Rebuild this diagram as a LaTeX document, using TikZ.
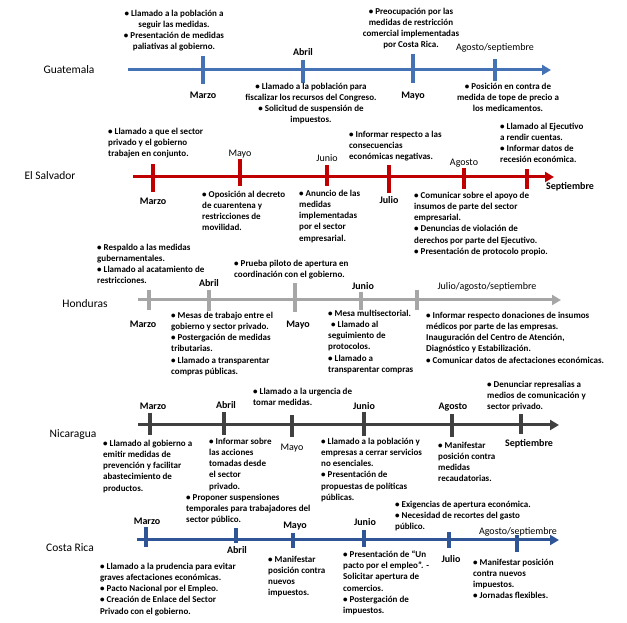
\documentclass[tikz,border=0pt]{standalone}
\usepackage{fontspec}
\setmainfont{Carlito}
\usetikzlibrary{arrows.meta}
\definecolor{gblue}{RGB}{68,114,180}
\definecolor{cblue}{RGB}{47,85,151}
\definecolor{sred}{RGB}{192,0,0}
\definecolor{hgray}{RGB}{166,166,166}
\definecolor{ngray}{RGB}{64,64,64}
\tikzset{
  bt/.style={font=\fontsize{9}{11.3}\selectfont\bfseries, inner sep=0pt, align=left, anchor=north west, execute at begin node={\rule{0pt}{7pt}}},
  btc/.style={font=\fontsize{9}{11.3}\selectfont\bfseries, inner sep=0pt, align=center, anchor=north, execute at begin node={\rule{0pt}{7pt}}},
  mon/.style={font=\fontsize{10}{12}\selectfont\bfseries, inner sep=0pt, anchor=base},
  monr/.style={font=\fontsize{10}{12}\selectfont, inner sep=0pt, anchor=base},
  ctry/.style={font=\fontsize{11.5}{13}\selectfont, inner sep=0pt, anchor=base},
  axis/.style={line width=3pt, -{Triangle[length=9pt,width=10pt]}},
  tk/.style={line width=3.5pt}
}
\begin{document}
\begin{tikzpicture}[x=1pt,y=1pt]
\useasboundingbox (0,0) rectangle (627,623);
% ---------------- Guatemala ----------------
\node[ctry] (gname) at (69,549) {Guatemala};
\coordinate (gS) at (128,553);
\coordinate (gE) at (551,553);
\draw[axis,gblue] (gS) -- (gE);
\draw[tk,gblue] (203,567) coordinate (g1a) -- (203,539) coordinate (g1b);
\draw[tk,gblue] (303,563) coordinate (g2a) -- (303,540) coordinate (g2b);
\draw[tk,gblue] (413,569) coordinate (g3a) -- (413,540) coordinate (g3b);
\draw[tk,gblue] (495,564) coordinate (g4a) -- (495,542) coordinate (g4b);
\node[mon] (gm1) at (203,524.5) {Marzo};
\node[mon] (gm2) at (303,567.5) {Abril};
\node[mon] (gm3) at (413,524.5) {Mayo};
\node[monr] (gm4) at (495,572.5) {Agosto/septiembre};
\node[btc] (gt1) at (174,613.5) {• Llamado a la población a\\seguir las medidas.\\• Presentación de medidas\\paliativas al gobierno.};
\node[btc] (gt2) at (311,540.5) {• Llamado a la población para\\fiscalizar los recursos del Congreso.\\• Solicitud de suspensión de\\impuestos.};
\node[btc] (gt3) at (411,615.5) {• Preocupación por las\\medidas de restricción\\comercial implementadas\\por Costa Rica.};
\node[btc] (gt4) at (508,540.5) {• Posición en contra de\\medida de tope de precio a\\los medicamentos.};
% ---------------- El Salvador ----------------
\node[ctry] (sname) at (50,443) {El Salvador};
\coordinate (sS) at (133,446);
\coordinate (sE) at (554,446);
\draw[axis,sred] (sS) -- (sE);
\draw[tk,sred] (153,459) coordinate (s1a) -- (153,431) coordinate (s1b);
\draw[tk,sred] (240,464) coordinate (s2a) -- (240,437) coordinate (s2b);
\draw[tk,sred] (327,458) coordinate (s3a) -- (327,437) coordinate (s3b);
\draw[tk,sred] (389,458) coordinate (s4a) -- (389,430) coordinate (s4b);
\draw[tk,sred] (464,455) coordinate (s5a) -- (464,434) coordinate (s5b);
\draw[tk,sred] (527,454) coordinate (s6a) -- (527,434) coordinate (s6b);
\node[mon] (sm1) at (153,418.5) {Marzo};
\node[monr] (sm2) at (240,466.5) {Mayo};
\node[monr] (sm3) at (327,461.5) {Junio};
\node[mon] (sm4) at (389,419.5) {Julio};
\node[monr] (sm5) at (464,457.5) {Agosto};
\node[mon] (sm6) at (570,433.5) {Septiembre};
\node[bt] (st1) at (108,495.5) {• Llamado a que el sector\\privado y el gobierno\\trabajen en conjunto.};
\node[bt] (st2) at (202,432.5) {• Oposición al decreto\\de cuarentena y\\restricciones de\\movilidad.};
\node[bt] (st3) at (299,433.5) {• Anuncio de las\\medidas\\implementadas\\por el sector\\empresarial.};
\node[bt] (st4) at (349,492.5) {• Informar respecto a las\\consecuencias\\económicas negativas.};
\node[bt] (st5) at (414,431.5) {• Comunicar sobre el apoyo de\\insumos de parte del sector\\empresarial.\\• Denuncias de violación de\\derechos por parte del Ejecutivo.\\• Presentación de protocolo propio.};
\node[bt] (st6) at (500,500.5) {• Llamado al Ejecutivo\\a rendir cuentas.\\• Informar datos de\\recesión económica.};
% ---------------- Honduras ----------------
\node[ctry] (hname) at (85,315) {Honduras};
\coordinate (hS) at (138,323);
\coordinate (hE) at (561,323);
\draw[axis,hgray] (hS) -- (hE);
\draw[tk,hgray] (149,333) coordinate (h1a) -- (149,313) coordinate (h1b);
\draw[tk,hgray] (209,333) coordinate (h2a) -- (209,312) coordinate (h2b);
\draw[tk,hgray] (295,340) coordinate (h3a) -- (295,311) coordinate (h3b);
\draw[tk,hgray] (361,331) coordinate (h4a) -- (361,313) coordinate (h4b);
\draw[tk,hgray] (417,333) coordinate (h5a) -- (417,313) coordinate (h5b);
\node[mon] (hm1) at (143,295.5) {Marzo};
\node[mon] (hm2) at (209,336.5) {Abril};
\node[mon] (hm3) at (298,295.5) {Mayo};
\node[mon] (hm4) at (363,333.5) {Junio};
\node[monr] (hm5) at (487,333.5) {Julio/agosto/septiembre};
\node[bt] (ht1) at (97,379.5) {• Respaldo a las medidas\\gubernamentales.\\• Llamado al acatamiento de\\restricciones.};
\node[bt] (ht2) at (234,363.5) {• Prueba piloto de apertura en\\coordinación con el gobierno.};
\node[bt] (ht3) at (171,311.5) {• Mesas de trabajo entre el\\gobierno y sector privado.\\• Postergación de medidas\\tributarias.\\• Llamado a transparentar\\compras públicas.};
\node[bt] (ht4) at (328,313.5) {• Mesa multisectorial.\\\hspace{3pt}• Llamado al\\seguimiento de\\protocolos.\\• Llamado a\\transparentar compras};
\node[bt] (ht5) at (426,311.5) {• Informar respecto donaciones de insumos\\médicos por parte de las empresas.\\Inauguración del Centro de Atención,\\Diagnóstico y Estabilización.\\• Comunicar datos de afectaciones económicas.};
% ---------------- Nicaragua ----------------
\node[ctry] (nname) at (73,185) {Nicaragua};
\coordinate (nS) at (138,198);
\coordinate (nE) at (559,198);
\draw[axis,ngray] (nS) -- (nE);
\draw[tk,ngray] (150,210) coordinate (n1a) -- (150,188) coordinate (n1b);
\draw[tk,ngray] (224,211) coordinate (n2a) -- (224,188) coordinate (n2b);
\draw[tk,ngray] (292,208) coordinate (n3a) -- (292,186) coordinate (n3b);
\draw[tk,ngray] (364,211) coordinate (n4a) -- (364,187) coordinate (n4b);
\draw[tk,ngray] (452,209) coordinate (n5a) -- (452,186) coordinate (n5b);
\draw[tk,ngray] (521,209) coordinate (n6a) -- (521,189) coordinate (n6b);
\node[mon] (nm1) at (153,213.5) {Marzo};
\node[mon] (nm2) at (226,214.5) {Abril};
\node[monr] (nm3) at (292,172.5) {Mayo};
\node[mon] (nm4) at (364,213.5) {Junio};
\node[mon] (nm5) at (453,213.5) {Agosto};
\node[mon] (nm6) at (529,176.5) {Septiembre};
\node[bt] (nt1) at (103,183.5) {• Llamado al gobierno a\\emitir medidas de\\prevención y facilitar\\abastecimiento de\\productos.};
\node[bt] (nt2) at (209,185.5) {• Informar sobre\\las acciones\\tomadas desde\\el sector\\privado.};
\node[bt] (nt3) at (253,235.5) {• Llamado a la urgencia de\\tomar medidas.};
\node[bt] (nt4) at (321,185.5) {• Llamado a la población y\\empresas a cerrar servicios\\no esenciales.\\• Presentación de\\propuestas de políticas\\públicas.};
\node[bt] (nt5) at (438,181.5) {• Manifestar\\posición contra\\medidas\\recaudatorias.};
\node[bt] (nt6) at (487,242.5) {• Denunciar represalias a\\medios de comunicación y\\sector privado.};
% ---------------- Costa Rica ----------------
\node[ctry] (cname) at (70,71) {Costa Rica};
\coordinate (cS) at (137,83);
\coordinate (cE) at (559,83);
\draw[axis,cblue] (cS) -- (cE);
\draw[tk,cblue] (146,96) coordinate (c1a) -- (146,76) coordinate (c1b);
\draw[tk,cblue] (236,95) coordinate (c2a) -- (236,80) coordinate (c2b);
\draw[tk,cblue] (293,90) coordinate (c3a) -- (293,75) coordinate (c3b);
\draw[tk,cblue] (364,93) coordinate (c4a) -- (364,76) coordinate (c4b);
\draw[tk,cblue] (449,91) coordinate (c5a) -- (449,75) coordinate (c5b);
\draw[tk,cblue] (517,88) coordinate (c6a) -- (517,71) coordinate (c6b);
\node[mon] (cm1) at (147,98.5) {Marzo};
\node[mon] (cm2) at (237,69.5) {Abril};
\node[mon] (cm3) at (295,94.5) {Mayo};
\node[mon] (cm4) at (365,97.5) {Junio};
\node[mon] (cm5) at (451,60.5) {Julio};
\node[monr] (cm6) at (518,88.5) {Agosto/septiembre};
\node[bt] (ct1) at (186,129.5) {• Proponer suspensiones\\temporales para trabajadores del\\sector público.};
\node[bt] (ct2) at (100,60.5) {• Llamado a la prudencia para evitar\\graves afectaciones económicas.\\• Pacto Nacional por el Empleo.\\• Creación de Enlace del Sector\\Privado con el gobierno.};
\node[bt] (ct3) at (268,67.5) {• Manifestar\\posición contra\\nuevos\\impuestos.};
\node[bt] (ct4) at (343,72.5) {• Presentación de “Un\\pacto por el empleo”. -\\Solicitar apertura de\\comercios.\\• Postergación de\\impuestos.};
\node[bt] (ct5) at (395,122.5) {• Exigencias de apertura económica.\\• Necesidad de recortes del gasto\\público.};
\node[bt] (ct6) at (473,64.5) {• Manifestar posición\\contra nuevos\\impuestos.\\• Jornadas flexibles.};
\end{tikzpicture}
\end{document}
